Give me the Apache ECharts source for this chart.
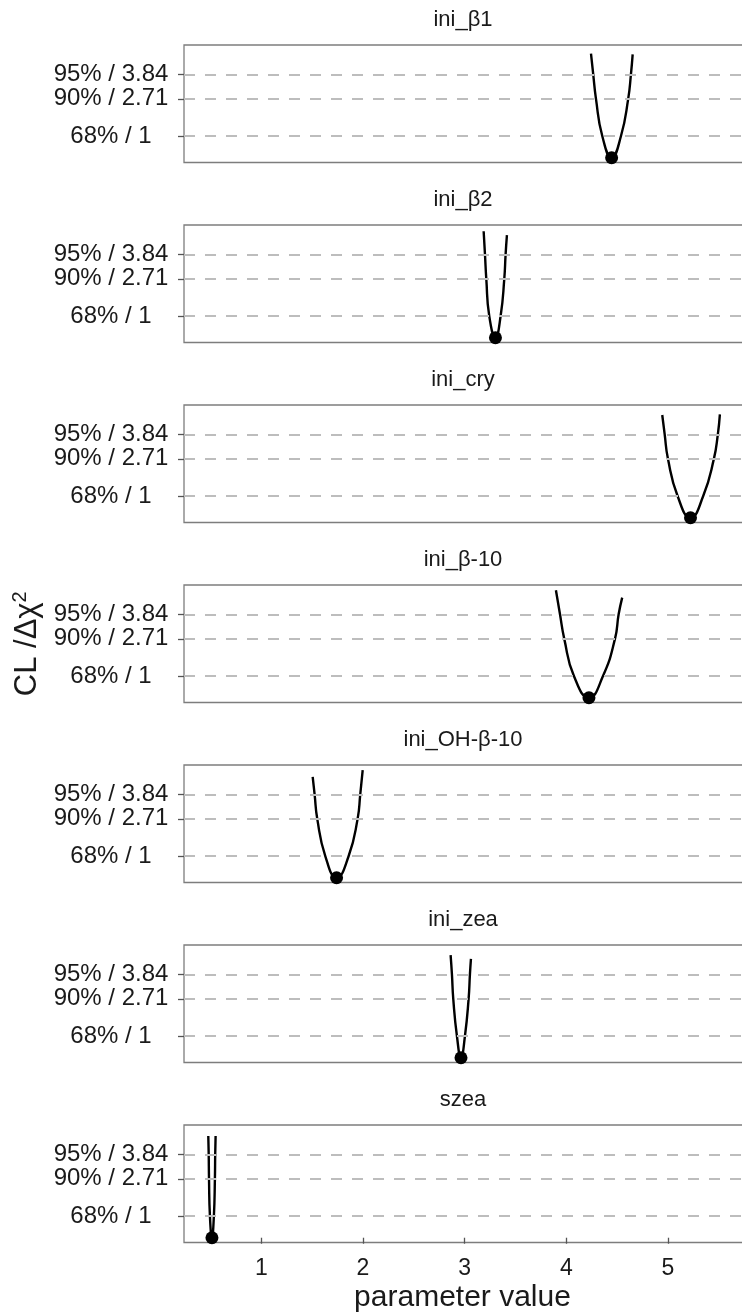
<!DOCTYPE html>
<html>
<head>
<meta charset="utf-8">
<script src="https://cdn.jsdelivr.net/npm/echarts@6/dist/echarts.min.js"></script>
<style>
html,body{margin:0;padding:0;background:#fff;}
#chart{width:742px;height:1314px;}
</style>
</head>
<body>
<div id="chart"></div>
<script>
// ---- data ----
const categories = ['ini_β1', 'ini_β2', 'ini_cry', 'ini_β-10', 'ini_OH-β-10', 'ini_zea', 'szea'];

const curve_ini_b1 = [[4.243,4.79],[4.265,3.84],[4.292,2.71],[4.354,1],[4.446,0],[4.538,1],[4.609,2.71],[4.636,3.84],[4.653,4.76]];
const curve_ini_b2 = [[3.187,4.90],[3.200,3.84],[3.213,2.71],[3.242,1],[3.303,0],[3.354,1],[3.390,2.71],[3.403,3.84],[3.416,4.72]];
const curve_ini_cry = [[4.944,4.73],[4.968,3.84],[5.000,2.71],[5.095,1],[5.222,0],[5.347,1],[5.452,2.71],[5.491,3.84],[5.511,4.76]];
const curve_ini_b10 = [[3.898,4.95],[3.938,3.84],[3.980,2.71],[4.075,1],[4.223,0],[4.361,1],[4.479,2.71],[4.515,3.84],[4.550,4.61]];
const curve_ini_ohb10 = [[1.505,4.64],[1.524,3.84],[1.550,2.71],[1.629,1],[1.740,0],[1.859,1],[1.947,2.71],[1.973,3.84],[1.997,4.95]];
const curve_ini_zea = [[2.862,4.72],[2.875,3.84],[2.888,2.71],[2.924,1],[2.964,0],[3.003,1],[3.039,2.71],[3.052,3.84],[3.062,4.55]];
const curve_szea = [[0.478,4.68],[0.482,3.84],[0.485,2.71],[0.494,1],[0.514,0],[0.533,1],[0.543,2.71],[0.546,3.84],[0.550,4.68]];

const bestFit = [[4.446,0],[3.303,0],[5.222,0],[4.223,0],[1.740,0],[2.964,0],[0.514,0]];

const yTickValues = [1, 2.71, 3.84];
const yTickLabels = ['68% / 1', '90% / 2.71', '95% / 3.84'];
const xTickValues = [1, 2, 3, 4, 5];
const xTickLabels = ['1', '2', '3', '4', '5'];

const curves = [curve_ini_b1, curve_ini_b2, curve_ini_cry, curve_ini_b10, curve_ini_ohb10, curve_ini_zea, curve_szea];

// ---- layout ----
const FONT = 'Liberation Sans, Arial, Helvetica, sans-serif';
const X_MIN = 0.239, X_MAX = 5.768;
const Y_MIN = -0.22, Y_MAX = 5.19;
const GRID_LEFT = 184, GRID_W = 562, TOP0 = 45, STEP = 180, GRID_H = 117.5;
const n = categories.length;

const grid = [], xAxis = [], yAxis = [], series = [], title = [];
for (let i = 0; i < n; i++) {
  const top = TOP0 + STEP * i;
  const last = i === n - 1;
  grid.push({left: GRID_LEFT, top: top, width: GRID_W, height: GRID_H, show: true,
    outerBoundsMode: 'none', containLabel: false,
    borderColor: '#7d7d7d', borderWidth: 1.3, backgroundColor: 'transparent'});
  title.push({text: categories[i], left: 463, top: top - 36, textAlign: 'center', padding: 0,
    textStyle: {fontFamily: FONT, fontSize: 22, fontWeight: 'normal', color: '#1a1a1a'}});
  xAxis.push({type: 'value', gridIndex: i, min: X_MIN, max: X_MAX,
    axisLine: {show: false}, splitLine: {show: false},
    axisTick: {show: last, customValues: xTickValues, length: 6, lineStyle: {color: '#555', width: 1.3}},
    axisLabel: {show: last, customValues: xTickValues, margin: 15, fontFamily: FONT, fontSize: 23, color: '#1a1a1a',
      formatter: v => xTickLabels[xTickValues.indexOf(v)] ?? ''},
    name: last ? 'parameter value' : '', nameLocation: 'middle', nameGap: 40,
    nameTextStyle: {fontFamily: FONT, fontSize: 30, color: '#1a1a1a', padding: [0, 5, 0, 0]}});
  yAxis.push({type: 'value', gridIndex: i, min: Y_MIN, max: Y_MAX,
    axisLine: {show: false}, splitLine: {show: false},
    axisTick: {show: true, customValues: yTickValues, length: 6, lineStyle: {color: '#555', width: 1.3}},
    axisLabel: {customValues: yTickValues, align: 'center', margin: 73, fontFamily: FONT, fontSize: 24, color: '#1a1a1a',
      formatter: v => { const k = yTickValues.findIndex(t => Math.abs(t - v) < 1e-6); return k >= 0 ? yTickLabels[k] : ''; }},
    name: i === 3 ? 'CL /Δχ{sup|2}' : '', nameLocation: 'middle', nameGap: 139,
    nameTextStyle: {fontFamily: FONT, fontSize: 31, color: '#1a1a1a',
      rich: {sup: {fontFamily: FONT, fontSize: 20, color: '#1a1a1a', verticalAlign: 'top', padding: [0, 0, 13, 0]}}}});
  series.push({type: 'line', xAxisIndex: i, yAxisIndex: i, data: curves[i], smooth: 0.5,
    showSymbol: false, lineStyle: {color: '#000', width: 2.4}, z: 2,
    markLine: {silent: true, symbol: 'none', label: {show: false},
      lineStyle: {type: [11, 10], color: '#bdbdbd', width: 2.2},
      data: yTickValues.map(v => ({yAxis: v}))}});
  series.push({type: 'scatter', xAxisIndex: i, yAxisIndex: i, data: [bestFit[i]], symbolSize: 13,
    itemStyle: {color: '#000', opacity: 1}, z: 4});
}

const chart = echarts.init(document.getElementById('chart'), null, {renderer: 'canvas'});
chart.setOption({animation: false, backgroundColor: '#fff', title, grid, xAxis, yAxis, series});
</script>
</body>
</html>
